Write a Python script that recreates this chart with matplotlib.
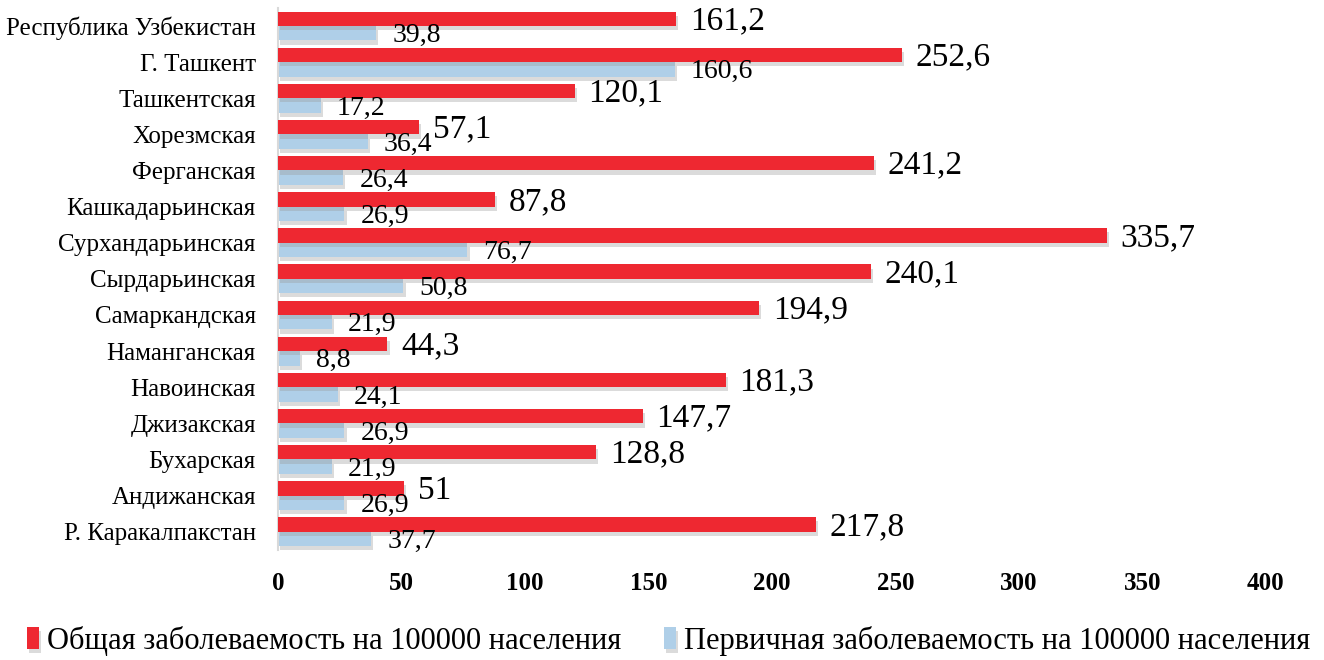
import matplotlib
matplotlib.use("Agg")
import matplotlib.pyplot as plt
import matplotlib.patheffects as pe
import numpy as np

plt.rcParams['font.family'] = ['Liberation Serif', 'DejaVu Serif']

categories = ["Республика Узбекистан", "Г. Ташкент", "Ташкентская", "Хорезмская",
              "Ферганская", "Кашкадарьинская", "Сурхандарьинская", "Сырдарьинская",
              "Самаркандская", "Наманганская", "Навоинская", "Джизакская",
              "Бухарская", "Андижанская", "Р. Каракалпакстан"]
general = [161.2, 252.6, 120.1, 57.1, 241.2, 87.8, 335.7, 240.1, 194.9, 44.3,
           181.3, 147.7, 128.8, 51, 217.8]
primary = [39.8, 160.6, 17.2, 36.4, 26.4, 26.9, 76.7, 50.8, 21.9, 8.8,
           24.1, 26.9, 21.9, 26.9, 37.7]
series_names = ["Общая заболеваемость на 100000 населения",
                "Первичная заболеваемость на 100000 населения"]
xticks = [0, 50, 100, 150, 200, 250, 300, 350, 400]

red = '#EE2831'
blue = '#AFCFE8'

fig = plt.figure(figsize=(13.24, 6.6), dpi=100)
ax = fig.add_axes([0.21, 0.167, 0.746, 0.821])

n = len(categories)
y = np.arange(n)[::-1]
h = 0.4
shadow = [pe.SimplePatchShadow(offset=(1.5, -3), shadow_rgbFace='#999999', alpha=0.35), pe.Normal()]
b1 = ax.barh(y + h / 2, general, height=h, color=red, label=series_names[0], path_effects=shadow, zorder=3)
b2 = ax.barh(y - h / 2, primary, height=h, color=blue, label=series_names[1], path_effects=shadow, zorder=2)

def fmt(v):
    return f"{v:g}".replace('.', ',')

for yi, v in zip(y, general):
    ax.text(v + 5.5, yi + h / 2 - 0.06, fmt(v), va='center', ha='left', fontsize=24, zorder=5)
for yi, v in zip(y, primary):
    ax.text(v + 6.5, yi - h / 2 - 0.07, fmt(v), va='center', ha='left', fontsize=20, zorder=5)

ax.set_xlim(0, 400)
ax.set_ylim(-0.5, n - 0.5)
ax.set_yticks(y)
ax.set_yticklabels(categories, fontsize=18)
ax.set_xticks(xticks)
ax.set_xticklabels([str(t) for t in xticks], fontsize=18, fontweight='bold')
ax.tick_params(axis='both', length=0)
ax.tick_params(axis='x', pad=16)
ax.tick_params(axis='y', pad=16)
for s in ['top', 'right', 'bottom']:
    ax.spines[s].set_visible(False)
ax.spines['left'].set_color('#D9D9D9')
ax.spines['left'].set_linewidth(1.5)

fig.legend(handles=[b1, b2], labels=series_names, loc='lower center', ncol=2,
           bbox_to_anchor=(0.505, -0.035), frameon=False, fontsize=22,
           handlelength=0.4, handleheight=0.7, handletextpad=0.25, columnspacing=1.4)

fig.savefig('out.png', dpi=100)
